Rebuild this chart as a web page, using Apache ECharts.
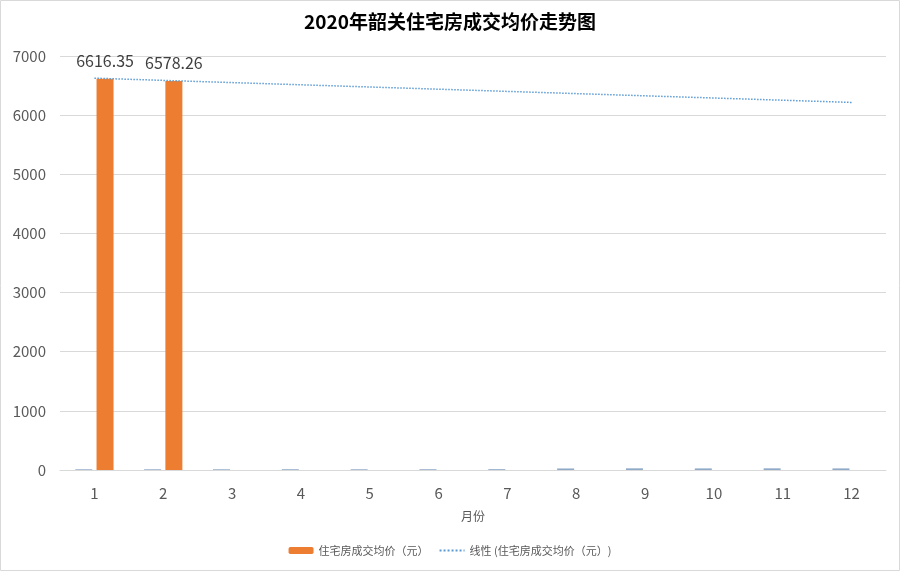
<!DOCTYPE html>
<html><head><meta charset="utf-8">
<script src="https://cdn.jsdelivr.net/npm/echarts@6/dist/echarts.min.js"></script>
<style>html,body{margin:0;padding:0;background:#fff}#c{width:900px;height:571px}</style>
</head><body><div id="c"></div>
<script>
var months = ['1','2','3','4','5','6','7','8','9','10','11','12'];
var minorValues = [12,12,12,13,12,13,14,26,28,27,28,27];
var priceValues = [6616.35,6578.26,null,null,null,null,null,null,null,null,null,null];
var trendValues = [6625,null,null,null,null,null,null,null,null,null,null,6215];
var yTicks = [0,1000,2000,3000,4000,5000,6000,7000];

var chart = echarts.init(document.getElementById('c'));
var font = '"Noto Sans CJK SC", "Open Sans", sans-serif';
chart.setOption({
  animation:false,
  textStyle:{fontFamily:font},
  title:{text:'2020年韶关住宅房成交均价走势图',left:'center',top:7,
    textStyle:{fontSize:19,fontWeight:'bold',color:'#000',fontFamily:font}},
  graphic:[{type:'rect',shape:{x:0.5,y:0.5,width:899,height:570},style:{fill:'none',stroke:'#d9d9d9',lineWidth:1}}],
  legend:{data:[{name:'住宅房成交均价（元）'},{name:'线性 (住宅房成交均价（元）)',itemStyle:{opacity:0}}],
    bottom:10,left:'center',
    itemWidth:25,itemHeight:7,itemGap:10,
    textStyle:{fontSize:11,color:'#595959'}},
  grid:{left:60,right:14,top:56,bottom:101},
  xAxis:{type:'category',data:months,name:'月份',nameLocation:'middle',nameGap:40,
    nameTextStyle:{fontSize:12,color:'#595959'},
    axisLine:{lineStyle:{color:'#d9d9d9'}},axisTick:{show:false},
    axisLabel:{fontSize:15,color:'#595959',margin:16}},
  yAxis:{type:'value',min:yTicks[0],max:yTicks[yTicks.length-1],interval:1000,
    axisLine:{show:false},axisTick:{show:false},
    splitLine:{lineStyle:{color:'#d9d9d9'}},
    axisLabel:{fontSize:15,color:'#595959',margin:14,formatter:function(v){return String(v);}}},
  series:[
    {name:'成交面积',type:'bar',data:minorValues,barWidth:17,barGap:'25%',
      itemStyle:{color:'#8fa9c8'}},
    {name:'住宅房成交均价（元）',type:'bar',data:priceValues,barWidth:17,barGap:'25%',
      itemStyle:{color:'#ed7d31'},
      label:{show:true,position:'top',fontSize:16,color:'#404040',distance:10,offset:[0,0]}},
    {name:'线性 (住宅房成交均价（元）)',type:'line',data:trendValues,connectNulls:true,
      symbol:'none',lineStyle:{type:'dotted',color:'#5b9bd5',width:1.5},itemStyle:{color:'#5b9bd5'},z:5}
  ]
});
</script></body></html>
